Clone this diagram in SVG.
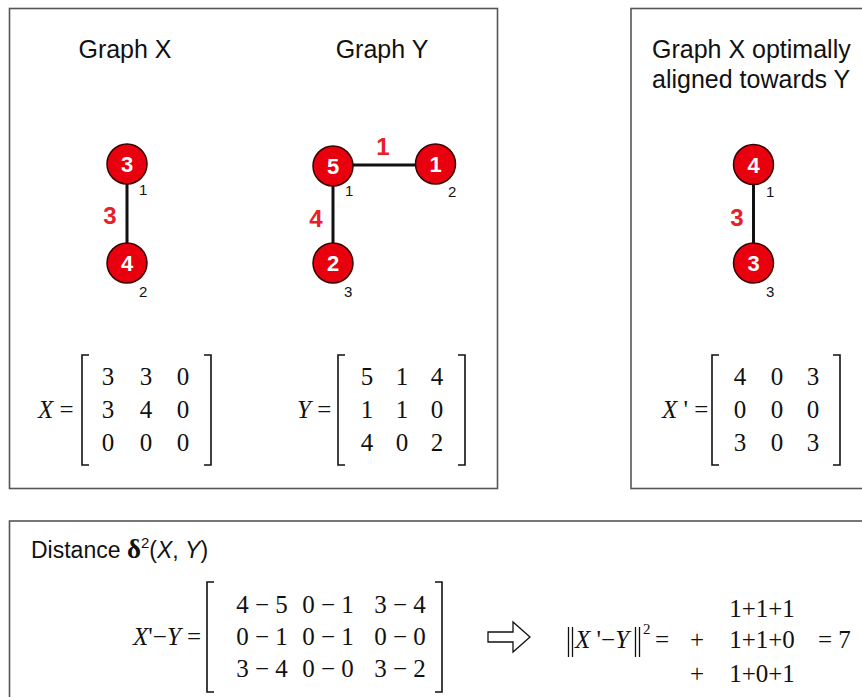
<svg xmlns="http://www.w3.org/2000/svg" width="862" height="697" viewBox="0 0 862 697">
<style>
.box{fill:#fff;stroke:#555;stroke-width:1.6}
.title{font-family:"Liberation Sans",Arial,sans-serif;font-size:25px;fill:#111}
.node{fill:#e8000f;stroke:#3a0000;stroke-width:1.5}
.nl{font-family:"Liberation Sans",Arial,sans-serif;font-size:22px;font-weight:bold;fill:#fff;text-anchor:middle}
.idx{font-family:"Liberation Sans",Arial,sans-serif;font-size:15px;fill:#111}
.el{font-family:"Liberation Sans",Arial,sans-serif;font-size:24px;font-weight:bold;fill:#e8202a;text-anchor:middle}
.edge{stroke:#111;stroke-width:3}
.m{font-family:"Liberation Serif","Times New Roman",serif;font-size:25px;fill:#111;text-anchor:middle}
.ml{font-family:"Liberation Serif","Times New Roman",serif;font-size:25px;fill:#111}
.br{fill:none;stroke:#111;stroke-width:1.6}
.it{font-style:italic}
</style>
<rect class="box" x="9.5" y="8.5" width="488" height="480"/>
<rect class="box" x="631" y="8.5" width="260" height="480"/>
<rect class="box" x="9.5" y="521" width="880" height="200"/>

<text class="title" x="125" y="58" text-anchor="middle">Graph X</text>
<text class="title" x="382" y="58" text-anchor="middle">Graph Y</text>
<text class="title" x="652" y="58">Graph X optimally</text>
<text class="title" x="652" y="88">aligned towards Y</text>

<g id="connectors">
<line class="edge" x1="127" y1="184" x2="127" y2="243"/>
<line class="edge" x1="333" y1="186" x2="333" y2="243"/>
<line class="edge" x1="353" y1="165" x2="415" y2="165"/>
<line class="edge" x1="753.5" y1="185" x2="753.5" y2="243"/>
<text class="el" x="110" y="224">3</text>
<text class="el" x="383" y="155">1</text>
<text class="el" x="316" y="227">4</text>
<text class="el" x="737" y="226">3</text>
</g>

<g id="gx-n1"><circle class="node" cx="127" cy="164" r="20"/><text class="nl" x="127" y="172">3</text><text class="idx" x="139" y="195">1</text></g>
<g id="gx-n2"><circle class="node" cx="127" cy="263" r="20"/><text class="nl" x="127" y="271">4</text><text class="idx" x="139" y="297">2</text></g>
<g id="gy-n1"><circle class="node" cx="333" cy="166" r="20"/><text class="nl" x="333" y="174">5</text><text class="idx" x="345" y="196">1</text></g>
<g id="gy-n2"><circle class="node" cx="435.5" cy="164" r="20"/><text class="nl" x="435.5" y="172">1</text><text class="idx" x="448" y="197">2</text></g>
<g id="gy-n3"><circle class="node" cx="333" cy="263" r="20"/><text class="nl" x="333" y="271">2</text><text class="idx" x="344" y="297">3</text></g>
<g id="ga-n1"><circle class="node" cx="753.5" cy="164.5" r="20"/><text class="nl" x="753.5" y="172.5">4</text><text class="idx" x="766" y="197">1</text></g>
<g id="ga-n3"><circle class="node" cx="753.5" cy="263" r="20"/><text class="nl" x="753.5" y="271">3</text><text class="idx" x="766" y="297">3</text></g>

<g id="matrix-x">
<text class="ml" x="38" y="418"><tspan class="it">X</tspan> =</text>
<path class="br" d="M89,355H82V465H89"/>
<path class="br" d="M204,355H211V465H204"/>
<text class="m" y="385"><tspan x="108">3</tspan><tspan x="146">3</tspan><tspan x="183">0</tspan></text>
<text class="m" y="418"><tspan x="108">3</tspan><tspan x="146">4</tspan><tspan x="183">0</tspan></text>
<text class="m" y="451"><tspan x="108">0</tspan><tspan x="146">0</tspan><tspan x="183">0</tspan></text>
</g>

<g id="matrix-y">
<text class="ml" x="297" y="418"><tspan class="it">Y</tspan> =</text>
<path class="br" d="M345,355H338V465H345"/>
<path class="br" d="M458,355H465V465H458"/>
<text class="m" y="385"><tspan x="367">5</tspan><tspan x="402">1</tspan><tspan x="437">4</tspan></text>
<text class="m" y="418"><tspan x="367">1</tspan><tspan x="402">1</tspan><tspan x="437">0</tspan></text>
<text class="m" y="451"><tspan x="367">4</tspan><tspan x="402">0</tspan><tspan x="437">2</tspan></text>
</g>

<g id="matrix-xp">
<text class="ml" x="662" y="418"><tspan class="it">X</tspan> ' =</text>
<path class="br" d="M719,355H712V465H719"/>
<path class="br" d="M833,355H840V465H833"/>
<text class="m" y="385"><tspan x="740">4</tspan><tspan x="777">0</tspan><tspan x="813">3</tspan></text>
<text class="m" y="418"><tspan x="740">0</tspan><tspan x="777">0</tspan><tspan x="813">0</tspan></text>
<text class="m" y="451"><tspan x="740">3</tspan><tspan x="777">0</tspan><tspan x="813">3</tspan></text>
</g>

<g id="distance">
<text x="31" y="558" style="font-family:'Liberation Sans',Arial,sans-serif;font-size:23px;fill:#111">Distance <tspan style="font-family:'Liberation Serif',serif;font-weight:bold;font-size:27px">δ</tspan><tspan dy="-10" style="font-size:15px">2</tspan><tspan dy="10">(</tspan><tspan class="it">X</tspan>, <tspan class="it">Y</tspan>)</text>
<text class="ml" x="133" y="645"><tspan class="it">X</tspan>'−<tspan class="it">Y</tspan> =</text>
<path class="br" d="M214,582H207V692H214"/>
<path class="br" d="M435,582H442V692H435"/>
<text class="m" y="613"><tspan x="262">4 − 5</tspan><tspan x="328">0 − 1</tspan><tspan x="400">3 − 4</tspan></text>
<text class="m" y="645"><tspan x="262">0 − 1</tspan><tspan x="328">0 − 1</tspan><tspan x="400">0 − 0</tspan></text>
<text class="m" y="677"><tspan x="262">3 − 4</tspan><tspan x="328">0 − 0</tspan><tspan x="400">3 − 2</tspan></text>
<polygon points="488,632 513,632 513,622 530,637 513,652 513,642 488,642" fill="#fff" stroke="#111" stroke-width="1.3"/>
<path d="M568.5,627V657M572.5,627V657M635.5,627V657M639.5,627V657" stroke="#111" stroke-width="1.3"/>
<text class="ml" x="575" y="648"><tspan class="it">X</tspan> '−<tspan class="it">Y</tspan></text>
<text class="ml" x="643" y="634" style="font-size:15px">2</text>
<text class="ml" x="655" y="648">=</text>
<text class="m" x="762" y="617">1+1+1</text>
<text class="m" x="697" y="648">+</text>
<text class="m" x="762" y="648">1+1+0</text>
<text class="ml" x="818" y="648">= 7</text>
<text class="m" x="697" y="682">+</text>
<text class="m" x="762" y="682">1+0+1</text>
</g>
</svg>
